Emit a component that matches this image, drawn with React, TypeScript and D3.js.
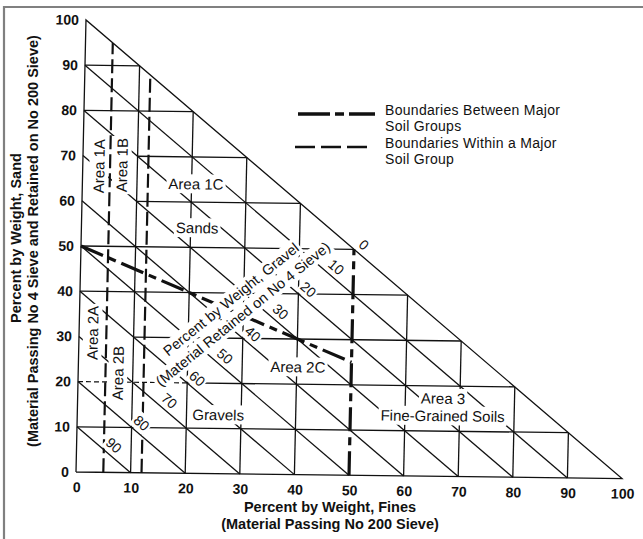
import React, { useEffect, useRef } from "react";
import * as d3 from "d3";

const W = 643;
const H = 539;

// percent ticks on the fines (x) and sand (y) axes
const axisTicks = [0, 10, 20, 30, 40, 50, 60, 70, 80, 90, 100];
// grid steps inside the triangle
const gridSteps = [10, 20, 30, 40, 50, 60, 70, 80, 90];
// gravel % = 100 - fines - sand, labelled along the diagonals
const gravelTicks = [0, 10, 20, 30, 40, 50, 60, 70, 80, 90];
// sand rows whose grid line stops at the Area 1 / Area 2 column
const openRows = [30, 60, 70];

// boundaries between major soil groups, [fines, sand]
const majorBoundaries: [number, number][][] = [
  [[0, 50], [50, 25]],
  [[50, 0], [50, 50]],
];
// boundaries within a major soil group
const minorBoundaries: [number, number][][] = [
  [[5, 0], [5, 95]],
  [[12, 0], [12, 88]],
];

const areaNames = ["Area 1A", "Area 1B", "Area 1C", "Sands", "Area 2A", "Area 2B", "Area 2C", "Gravels", "Area 3", "Fine-Grained Soils"];
const areaFines = [3.0, 7.2, 20.8, 21.2, 2.5, 7.3, 40.2, 25.8, 66.9, 67.4];
const areaSand = [67.7, 68, 64, 54.3, 30.8, 22, 23.8, 13, 15.3, 12];
const areaVertical = [true, true, false, false, true, true, false, false, false, false];

const legendRows = [
  ["Boundaries Between Major", "Soil Groups"],
  ["Boundaries Within a Major", "Soil Group"],
];

const font = "'Liberation Sans', Arial, Helvetica, sans-serif";
const ink = "#111";

type Sel = d3.Selection<SVGGElement, unknown, null, undefined>;

// text block centred on (tx, ty), with a white box behind it that breaks the grid lines
function addLabel(parent: Sel, tx: number, ty: number, angle: number, lines: string[],
  size: number, weight = "normal", spacing = 17, pad = 2) {
  const g = parent.append("g").attr("transform", `translate(${tx},${ty}) rotate(${angle})`);
  lines.forEach((t, i) => {
    const text = g.append("text")
      .attr("y", (i - (lines.length - 1) / 2) * spacing)
      .attr("dy", "0.35em")
      .attr("text-anchor", "middle")
      .attr("font-size", size)
      .attr("font-weight", weight)
      .attr("fill", ink)
      .text(t);
    const node = text.node() as SVGTextElement;
    const b = node.getBBox();
    g.insert("rect", () => node)
      .attr("x", b.x - pad).attr("y", b.y - pad / 2)
      .attr("width", b.width + pad * 2).attr("height", b.height + pad)
      .attr("fill", "#fff");
  });
}

function drawChart(el: SVGSVGElement) {
  const svg = d3.select(el);
  svg.selectAll("*").remove();

  svg.append("rect").attr("width", W).attr("height", H).attr("fill", "#fff");
  // page frame of the scan
  svg.append("path").attr("d", `M4,${H} V7 H${W}`)
    .attr("fill", "none").attr("stroke", "#808080").attr("stroke-width", 2.2);

  const x = d3.scaleLinear().domain([0, 100]).range([76, 622]);
  const y = d3.scaleLinear().domain([0, 100]).range([472, 20]);

  // the scanned original is a little skewed
  const kx = -0.0221, ky = 0.012;
  const chart = svg.append("g")
    .attr("transform", `matrix(1,${ky},${kx},1,${-kx * y(0)},${-ky * x(0)})`)
    .attr("font-family", font) as unknown as Sel;

  const line = d3.line<[number, number]>().x(d => x(d[0])).y(d => y(d[1]));

  const grid: [number, number][][] = [];
  gridSteps.forEach(v => {
    const start = openRows.includes(v) ? 10 : v === 20 ? 20 : 0;
    grid.push([[start, v], [100 - v, v]]);
    if (v !== 50) grid.push([[v, 0], [v, 100 - v]]);
    grid.push([[0, v], [v, 0]]);
  });
  grid.push([[0, 0], [0, 100], [100, 0], [0, 0]]);

  chart.append("g").selectAll("path").data(grid).join("path")
    .attr("d", line)
    .attr("fill", "none").attr("stroke", ink).attr("stroke-width", 1.3);

  // first part of the 20% row is only dashed
  chart.append("path").datum([[0, 20], [20, 20]] as [number, number][])
    .attr("d", line)
    .attr("fill", "none").attr("stroke", ink).attr("stroke-width", 1.2)
    .attr("stroke-dasharray", "5,3");

  chart.append("g").selectAll("path").data(minorBoundaries).join("path")
    .attr("d", line)
    .attr("fill", "none").attr("stroke", ink).attr("stroke-width", 2.2)
    .attr("stroke-dasharray", "14,5");

  chart.append("g").selectAll("path").data(majorBoundaries).join("path")
    .attr("d", line)
    .attr("fill", "none").attr("stroke", ink).attr("stroke-width", 3.2)
    .attr("stroke-dasharray", "24,6,8,6");

  // axis tick labels
  chart.append("g").selectAll("text").data(axisTicks).join("text")
    .attr("x", x(0) - 7).attr("y", d => y(d)).attr("dy", "0.35em")
    .attr("text-anchor", "end").attr("font-size", 14).attr("font-weight", "bold")
    .attr("fill", ink).text(d => d);
  chart.append("g").selectAll("text").data(axisTicks).join("text")
    .attr("x", d => x(d) + 1).attr("y", y(0) + 20)
    .attr("text-anchor", "middle").attr("font-size", 14).attr("font-weight", "bold")
    .attr("fill", ink).text(d => d);

  // gravel labels sit just above their diagonal
  gravelTicks.forEach(gv => {
    const s = (100 - gv) / 2;
    addLabel(chart, x(s + 1.8), y(s + 1.0), 40, [String(gv)], 14, "normal", 17, 1.5);
  });

  addLabel(chart, x(28.8), y(37.0), -40,
    ["Percent by Weight, Gravel", "(Material Retained on No 4 Sieve)"], 14.5, "normal", 19);

  areaNames.forEach((name, i) => {
    if (name === "Fine-Grained Soils") return;
    const lines = name === "Area 3" ? [name, areaNames[i + 1]] : [name];
    addLabel(chart, x(areaFines[i]), y(areaSand[i]), areaVertical[i] ? -90 : 0, lines, 15, "normal", 17.5);
  });

  // legend
  const legend = svg.append("g").attr("font-family", font).attr("font-size", 14)
    .attr("letter-spacing", 0.3).attr("fill", ink);
  legendRows.forEach((rows, i) => {
    const ly = 114 + i * 33;
    legend.append("line")
      .attr("x1", i === 0 ? 298 : 295).attr("x2", i === 0 ? 375 : 368)
      .attr("y1", ly).attr("y2", ly)
      .attr("stroke", ink).attr("stroke-width", i === 0 ? 3.5 : 2.5)
      .attr("stroke-dasharray", i === 0 ? "32,5,9,5" : "20,6");
    rows.forEach((t, j) => {
      legend.append("text").attr("x", 385).attr("y", ly + 1 + j * 16).text(t);
    });
  });

  // axis titles
  const titles = svg.append("g").attr("font-family", font).attr("font-size", 14.5)
    .attr("font-weight", "bold").attr("fill", ink).attr("text-anchor", "middle");
  titles.append("text").attr("x", 330).attr("y", 512).text("Percent by Weight, Fines");
  titles.append("text").attr("x", 330).attr("y", 529).text("(Material Passing No 200 Sieve)");
  titles.append("text").attr("transform", "translate(21,238) rotate(-90)")
    .text("Percent by Weight, Sand");
  titles.append("text").attr("transform", "translate(38,241) rotate(-90)")
    .text("(Material Passing No 4 Sieve and Retained on No 200 Sieve)");
}

export default function App() {
  const ref = useRef<SVGSVGElement>(null);
  useEffect(() => {
    document.body.style.margin = "0";
    if (ref.current) drawChart(ref.current);
  }, []);
  return <svg ref={ref} width={W} height={H} style={{ display: "block" }} />;
}
